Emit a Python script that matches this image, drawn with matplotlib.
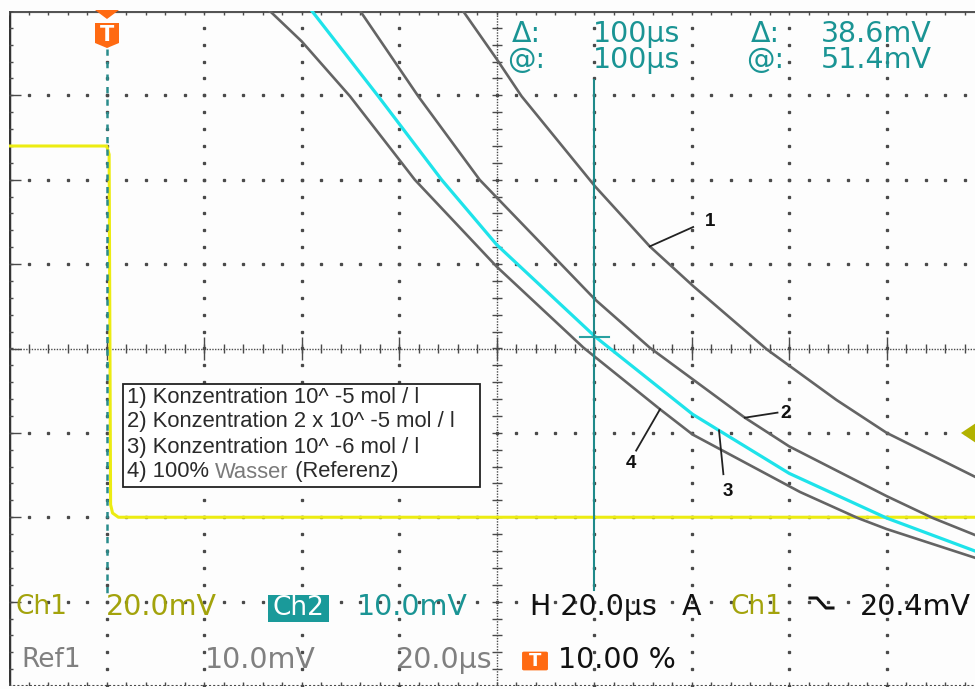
import numpy as np
import matplotlib.pyplot as plt
from matplotlib.patches import Polygon, FancyBboxPatch, Rectangle
from matplotlib.lines import Line2D

# x: time in µs after trigger (20 µs/div), y: screen divisions
t_ref1 = [73.1, 80.0, 85.1, 100.2, 111.4, 120.3, 135.4, 149.7, 160.0, 178.1]
y_ref1 = [4.00, 3.43, 2.99, 1.92, 1.21, 0.74, -0.01, -0.61, -1.00, -1.52]

t_ref2 = [52.0, 63.9, 76.5, 80.0, 100.2, 111.4, 130.9, 140.0, 160.0, 169.5, 178.1]
y_ref2 = [4.00, 2.99, 2.00, 1.79, 0.58, 0.01, -0.82, -1.16, -1.75, -2.01, -2.21]

t_ch2 = [42.1, 55.7, 68.7, 80.0, 100.2, 120.2, 140.0, 160.0, 178.1]
y_ch2 = [4.00, 2.99, 2.00, 1.23, 0.14, -0.78, -1.48, -2.01, -2.40]

t_ref4 = [33.1, 40.0, 49.9, 63.2, 80.0, 97.8, 113.5, 120.2, 142.2, 154.1, 160.0, 178.1]
y_ref4 = [4.02, 3.64, 2.99, 2.00, 0.97, 0.01, -0.72, -1.02, -1.70, -2.01, -2.14, -2.48]

t_ch1 = [-20, 0, 0.5, 0.8, 1.2, 2.4, 180]
y_ch1 = [2.40, 2.40, 2.30, -1.85, -1.95, -2.00, -2.00]

legend_lines = ['1) Konzentration 10^ -5 mol / l',
                '2) Konzentration 2 x 10^ -5 mol / l',
                '3) Konzentration 10^ -6 mol / l']

W, H = 975, 689
fig = plt.figure(figsize=(9.75, 6.89), dpi=100)
fig.patch.set_facecolor('#fdfdfd')
ax = fig.add_axes([9.2 / W, 3 / H, 975 / W, 675 / H])
ax.set_xlim(-20, 180)
ax.set_ylim(-4, 4)
ax.axis('off')

gcol = '#4a4a4a'
# graticule dots
for xv in range(0, 180, 20):
    if xv == 80:
        continue
    ys = np.arange(-4, 4.01, 0.2)
    ax.plot([xv] * len(ys), ys, ls='none', marker='s', ms=1.4, color=gcol, zorder=1)
for yv in [-3, -2, -1, 1, 2, 3]:
    xs = np.arange(-20, 180.1, 4)
    ax.plot(xs, [yv] * len(xs), ls='none', marker='s', ms=1.4, color=gcol, zorder=1)

# centre cross with ticks
ax.axvline(80, ls=(0, (1, 1)), lw=1, color=gcol, zorder=1)
ax.axhline(0, ls=(0, (1, 1)), lw=1, color=gcol, zorder=1)
ax.hlines(np.arange(-4, 4.01, 0.2), 80 - 1.0, 80 + 1.0, lw=1, color=gcol, zorder=1)
ax.vlines(np.arange(-20, 180.1, 4), -0.05, 0.05, lw=1, color=gcol, zorder=1)
ax.vlines(np.arange(-20, 180.1, 20), -0.14, 0.14, lw=1, color=gcol, zorder=1)

# border
ax.axhline(4, lw=3, color='#555555', zorder=2)
ax.axvline(-20, lw=2.5, color='#333333', zorder=2)
ax.axhline(-4, ls=(0, (1, 1)), lw=1.5, color=gcol, zorder=2)
ax.vlines(np.arange(-20, 180.1, 4), 4 - 0.05, 4, lw=1, color=gcol)
ax.vlines(np.arange(-20, 180.1, 4), -4, -4 + 0.05, lw=1, color=gcol)
ax.hlines(np.arange(-4, 4.01, 0.2), -20, -19.2, lw=1, color=gcol)
ax.hlines(np.arange(-3, 3.01, 1), -20, -17.5, lw=1, color=gcol)

# waveforms
ref_col = '#646464'
ax.plot(t_ch1, y_ch1, color='#ecec12', lw=2.2, zorder=3)
ax.plot(t_ref1, y_ref1, color=ref_col, lw=1.9, zorder=4)
ax.plot(t_ref2, y_ref2, color=ref_col, lw=1.9, zorder=4)
ax.plot(t_ref4, y_ref4, color=ref_col, lw=1.9, zorder=4)
ax.plot(t_ch2, y_ch2, color='#1ee3ea', lw=2.3, zorder=5)

# trigger position and cursor
teal = '#1a9494'
ax.plot([0, 0], [3.55, -2.95], ls=(0, (2.5, 2.5)), color='#2a8c8c', lw=1.8, zorder=6)
ax.plot([100, 100], [3.18, -2.86], color='#1f8a8a', lw=1.5, zorder=6)
ax.plot([97, 103], [0.14, 0.14], color='#2aa0a0', lw=1.5, zorder=6)

# curve label leaders
for xy, xyt in [((111.4, 1.21), (120.3, 1.44)),
                ((130.9, -0.82), (137.6, -0.76)),
                ((125.6, -0.97), (126.5, -1.49)),
                ((113.5, -0.72), (108.6, -1.21))]:
    ax.plot([xy[0], xyt[0]], [xy[1], xyt[1]], color='#222222', lw=1.3, zorder=7)


def fx(x):
    return x / W


def fy(y):
    return 1 - y / H


lab_kw = dict(fontsize=13.5, fontweight='bold', color='#111111', family='Liberation Sans',
              ha='center', va='center', zorder=7)
fig.text(fx(710), fy(222), '1', **lab_kw)
fig.text(fx(786), fy(413), '2', **lab_kw)
fig.text(fx(728), fy(491), '3', **lab_kw)
fig.text(fx(631), fy(464), '4', **lab_kw)


def ftext(x, y, s, color, fs=20.5, ha='center', **kw):
    return fig.text(fx(x), fy(y), s, color=color, fontsize=fs, ha=ha, va='center',
                    family='DejaVu Sans', **kw)


# cursor readout
ftext(526, 34, 'Δ:', teal)
ftext(637, 34, '100µs', teal)
ftext(765, 34, 'Δ:', teal)
ftext(876, 34, '38.6mV', teal)
ftext(526, 60, '@:', teal)
ftext(637, 60, '100µs', teal)
ftext(765, 60, '@:', teal)
ftext(876, 60, '51.4mV', teal)

# bottom status
olive = '#a3a30c'
grey = '#808080'
ftext(41, 607, 'Ch1', olive, fs=19)
ftext(161, 607, '20.0mV', olive)
fig.add_artist(Rectangle((fx(268), fy(622)), 61 / W, 27 / H, transform=fig.transFigure,
                         facecolor='#1a9a9a', edgecolor='none'))
ftext(298.5, 608, 'Ch2', 'white', fs=19)
ftext(412, 607, '10.0mV', teal)
ftext(51, 660, 'Ref1', grey, fs=19)
ftext(260, 660, '10.0mV', grey)
ftext(444, 660, '20.0µs', grey)
ftext(593, 607, 'H 20.0µs', '#111111')
ftext(692, 607, 'A', '#111111')
ftext(756, 607, 'Ch1', olive, fs=19)
fig.add_artist(Line2D([fx(810), fx(817), fx(826), fx(833)], [fy(598), fy(598), fy(608), fy(608)],
                      transform=fig.transFigure, color='#111111', lw=2.2))
ftext(915, 607, '20.4mV', '#111111')
orange = '#ff6a12'
fig.add_artist(FancyBboxPatch((fx(524), fy(669)), 22 / W, 16 / H, transform=fig.transFigure,
                              boxstyle='round,pad=0.002', facecolor=orange, edgecolor='none'))
ftext(535, 661, 'T', 'white', fs=13, fontweight='bold')
ftext(617, 660, '10.00 %', '#111111')

# trigger marker on top
fig.add_artist(Polygon([(fx(95), fy(10)), (fx(119), fy(10)), (fx(107), fy(19))], closed=True,
                       transform=fig.transFigure, facecolor=orange, edgecolor='none'))
fig.add_artist(Polygon([(fx(95), fy(23)), (fx(119), fy(23)), (fx(119), fy(43)), (fx(107), fy(48)),
                        (fx(95), fy(43))], closed=True,
                       transform=fig.transFigure, facecolor=orange, edgecolor='none'))
ftext(107, 35, 'T', 'white', fs=15, fontweight='bold')

# channel 1 level marker on right edge
fig.add_artist(Polygon([(fx(961), fy(433)), (fx(976), fy(423)), (fx(976), fy(443))], closed=True,
                       transform=fig.transFigure, facecolor='#b2b200', edgecolor='none'))

# legend box
fig.add_artist(Rectangle((fx(123), fy(487)), 357 / W, 103 / H, transform=fig.transFigure,
                         facecolor='white', edgecolor='#222222', lw=1.3))
leg_kw = dict(fontsize=15.8, family='Liberation Sans', va='center', ha='left')
for i, s in enumerate(legend_lines):
    fig.text(fx(127), fy(397 + 25 * i), s, color='#2a2a2a', **leg_kw)

# last legend line, "Wasser" is lighter
fig.canvas.draw()
r = fig.canvas.get_renderer()
xpos = 127
for s, c in [('4) 100% ', '#2a2a2a'), ('Wasser', '#7a7a7a'), (' (Referenz)', '#2a2a2a')]:
    t = fig.text(fx(xpos), fy(472), s, color=c, **leg_kw)
    xpos += t.get_window_extent(r).width

fig.savefig('out.png', dpi=100, facecolor=fig.get_facecolor())
